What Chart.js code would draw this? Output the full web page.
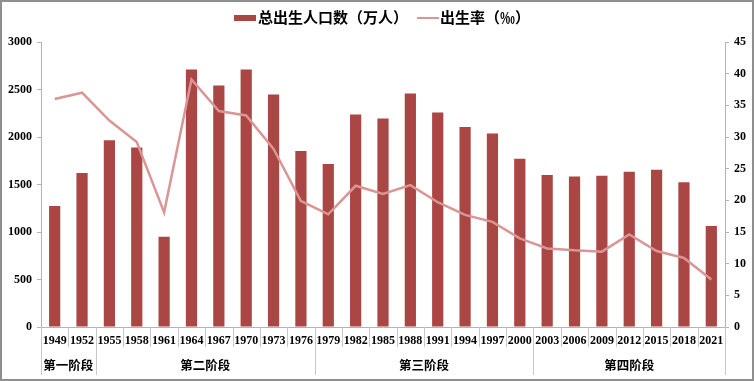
<!DOCTYPE html>
<html>
<head>
<meta charset="utf-8">
<script src="https://cdn.jsdelivr.net/npm/chart.js@4.4.0/dist/chart.umd.min.js"></script>
<style>
  html, body { margin: 0; padding: 0; background: #fff; }
  #wrap { position: relative; width: 754px; height: 381px; overflow: hidden; }
  #chart { position: absolute; left: 0; top: 0; }
  #frame { position: absolute; left: 0; top: 0; width: 754px; height: 381px; box-sizing: border-box;
           border: 2px solid #8f8f8f; pointer-events: none; }
  #legend { position: absolute; top: 7px; left: 0; width: 754px; height: 20px;
            font: bold 15px "Noto Sans CJK SC", sans-serif; color: #000; }
  .item { position: absolute; top: 0; line-height: 20px; white-space: nowrap; }
  .box { position: absolute; }
</style>
</head>
<body>
<div id="wrap">
  <canvas id="chart" width="754" height="381"></canvas>
  <div id="legend">
    <span class="box" style="left:234px; top:8px; width:22px; height:6px; background:#AA4643;"></span>
    <span class="item" style="left:258px;">总出生人口数（万人）</span>
    <span class="box" style="left:417px; top:10px; width:22px; height:2px; background:#D99694;"></span>
    <span class="item" style="left:440px;">出生率（‰）</span>
  </div>
  <div id="frame"></div>
</div>
<script>
const years = ['1949', '1952', '1955', '1958', '1961', '1964', '1967', '1970', '1973', '1976',
               '1979', '1982', '1985', '1988', '1991', '1994', '1997', '2000', '2003', '2006',
               '2009', '2012', '2015', '2018', '2021'];

// 总出生人口数（万人）
const births = [1275, 1622, 1965, 1889, 949, 2710, 2543, 2710, 2447, 1853,
                1715, 2237, 2196, 2457, 2258, 2104, 2038, 1771, 1599, 1585,
                1591, 1635, 1655, 1523, 1062];

// 出生率（‰）
const birthRate = [36.0, 37.0, 32.6, 29.2, 18.1, 39.1, 34.1, 33.4, 28.1, 19.9,
                   17.8, 22.3, 21.0, 22.4, 19.7, 17.7, 16.6, 14.0, 12.4, 12.1,
                   11.9, 14.6, 12.0, 10.9, 7.5];

// phase name + index of first and last year in it
const phaseNames = ['第一阶段', '第二阶段', '第三阶段', '第四阶段'];
const phaseStart = [0, 2, 10, 18];
const phaseEnd = [1, 9, 17, 24];

const tickFont = { family: '"Liberation Serif", "Times New Roman", serif', size: 12, weight: 'bold' };
const axisGray = '#b3b3b3';

// draws the table-like category dividers and the phase row under the x axis
const phasePlugin = {
  id: 'phases',
  afterDraw(chart) {
    const x = chart.scales.x;
    const ctx = chart.ctx;
    const bottom = chart.chartArea.bottom;
    const half = (x.getPixelForValue(1) - x.getPixelForValue(0)) / 2;
    ctx.save();
    ctx.strokeStyle = '#c8c8c8';
    ctx.lineWidth = 1;
    // short dividers between years
    for (let i = 0; i <= years.length; i++) {
      const px = Math.round(x.getPixelForValue(i) - half) + 0.5;
      ctx.beginPath();
      ctx.moveTo(px, bottom);
      ctx.lineTo(px, bottom + 20);
      ctx.stroke();
    }
    // long dividers between phases
    phaseStart.forEach((s) => {
      const px = Math.round(x.getPixelForValue(s) - half) + 0.5;
      ctx.beginPath();
      ctx.moveTo(px, bottom);
      ctx.lineTo(px, bottom + 48);
      ctx.stroke();
    });
    const endPx = Math.round(x.getPixelForValue(years.length - 1) + half) + 0.5;
    ctx.beginPath();
    ctx.moveTo(endPx, bottom);
    ctx.lineTo(endPx, bottom + 48);
    ctx.stroke();
    // phase names
    ctx.fillStyle = '#000';
    ctx.font = 'bold 12.5px "Noto Sans CJK SC", sans-serif';
    ctx.textAlign = 'center';
    ctx.textBaseline = 'middle';
    phaseNames.forEach((name, i) => {
      const l = x.getPixelForValue(phaseStart[i]) - half;
      const r = x.getPixelForValue(phaseEnd[i]) + half;
      ctx.fillText(name, (l + r) / 2, bottom + 38);
    });
    ctx.restore();
  }
};

new Chart(document.getElementById('chart'), {
  data: {
    labels: years,
    datasets: [
      {
        type: 'line',
        label: '出生率（‰）',
        data: birthRate,
        yAxisID: 'y1',
        borderColor: '#D99694',
        backgroundColor: '#D99694',
        borderWidth: 2.5,
        pointRadius: 0,
        tension: 0,
        order: 0
      },
      {
        type: 'bar',
        label: '总出生人口数（万人）',
        data: births,
        yAxisID: 'y',
        backgroundColor: '#AA4643',
        borderWidth: 0,
        categoryPercentage: 1.0,
        barPercentage: 0.41,
        order: 1
      }
    ]
  },
  options: {
    responsive: false,
    animation: false,
    layout: { padding: { top: 42, right: 0, left: 0, bottom: 0 } },
    plugins: {
      legend: { display: false },
      tooltip: { enabled: false }
    },
    scales: {
      x: {
        grid: { drawOnChartArea: false, drawTicks: false },
        border: { display: true, color: axisGray },
        ticks: { color: '#000', font: tickFont, padding: 7, maxRotation: 0, autoSkip: false },
        afterFit(scale) { scale.height = 54; }
      },
      y: {
        position: 'left',
        min: 0,
        max: 3000,
        grid: { drawOnChartArea: false, drawTicks: true, tickLength: 4, color: axisGray },
        border: { display: true, color: axisGray },
        ticks: { stepSize: 500, color: '#000', font: tickFont, padding: 5, callback: (v) => String(v) },
        afterFit(scale) { scale.width = 41; }
      },
      y1: {
        position: 'right',
        min: 0,
        max: 45,
        grid: { drawOnChartArea: false, drawTicks: true, tickLength: 4, color: axisGray },
        border: { display: true, color: axisGray },
        ticks: { stepSize: 5, color: '#000', font: tickFont, padding: 5, callback: (v) => String(v) },
        afterFit(scale) { scale.width = 29; }
      }
    }
  },
  plugins: [phasePlugin]
});
</script>
</body>
</html>
